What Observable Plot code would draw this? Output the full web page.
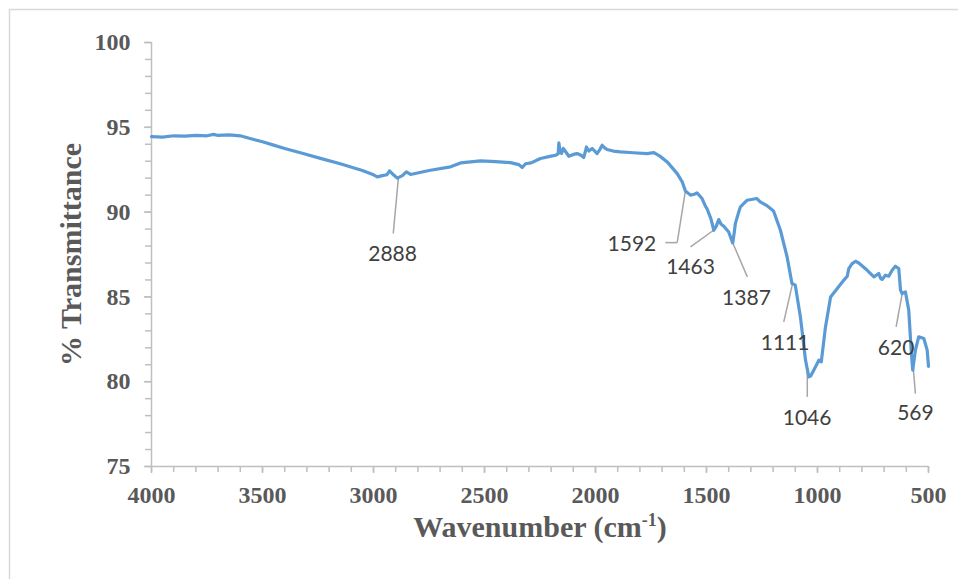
<!DOCTYPE html>
<html>
<head>
<meta charset="utf-8">
<script src="https://cdn.jsdelivr.net/npm/d3@7"></script>
<script src="https://cdn.jsdelivr.net/npm/@observablehq/plot@0.6"></script>
<style>
  html, body { margin: 0; padding: 0; background: #fff; }
  #chart svg { display: block; }
</style>
</head>
<body>
<div id="chart"></div>
<script>
// Spectrum: wavenumber (cm-1) and % transmittance
const wavenumber = [4000, 3950, 3900, 3850, 3800, 3750, 3720, 3700, 3650, 3600, 3560, 3500, 3450, 3400, 3329, 3239, 3150, 3050, 3000, 2983, 2960, 2940, 2928, 2910, 2893, 2870, 2852, 2833, 2750, 2653, 2608, 2518, 2450, 2383, 2345, 2330, 2315, 2290, 2248, 2200, 2180, 2168, 2165, 2158, 2153, 2145, 2120, 2100, 2083, 2065, 2053, 2045, 2041, 2030, 2015, 2000, 1993, 1980, 1970, 1960, 1948, 1920, 1888, 1830, 1768, 1737, 1710, 1677, 1632, 1610, 1595, 1572, 1555, 1542, 1520, 1505, 1498, 1480, 1467, 1455, 1445, 1435, 1422, 1400, 1382, 1375, 1370, 1355, 1347, 1317, 1273, 1258, 1230, 1198, 1167, 1137, 1115, 1100, 1077, 1054, 1039, 1030, 1017, 994, 983, 964, 941, 911, 881, 866, 859, 845, 829, 814, 776, 746, 724, 716, 709, 694, 679, 664, 649, 634, 626, 619, 604, 589, 578, 571, 559, 544, 521, 506, 500];
const transmittance = [94.45, 94.42, 94.5, 94.48, 94.52, 94.5, 94.58, 94.52, 94.55, 94.5, 94.35, 94.15, 93.95, 93.75, 93.5, 93.17, 92.85, 92.45, 92.2, 92.08, 92.15, 92.2, 92.43, 92.2, 92.0, 92.15, 92.37, 92.22, 92.45, 92.67, 92.9, 93.02, 92.98, 92.92, 92.8, 92.63, 92.85, 92.9, 93.16, 93.3, 93.35, 93.45, 94.08, 93.5, 93.46, 93.75, 93.29, 93.4, 93.45, 93.35, 93.22, 93.6, 93.84, 93.6, 93.75, 93.55, 93.45, 93.7, 93.94, 93.8, 93.69, 93.6, 93.55, 93.5, 93.45, 93.51, 93.3, 92.96, 92.27, 91.8, 91.25, 91.0, 91.05, 91.13, 90.8, 90.35, 90.21, 89.6, 88.93, 89.2, 89.56, 89.3, 89.17, 88.83, 88.18, 88.8, 89.32, 90.0, 90.31, 90.7, 90.8, 90.6, 90.4, 90.07, 88.93, 87.36, 85.79, 85.69, 83.82, 81.27, 80.28, 80.35, 80.68, 81.27, 81.17, 83.23, 85.0, 85.5, 85.99, 86.22, 86.67, 86.95, 87.1, 87.0, 86.57, 86.18, 86.38, 86.1, 86.03, 86.28, 86.22, 86.57, 86.81, 86.67, 85.4, 85.2, 85.3, 84.22, 81.86, 80.68, 81.86, 82.65, 82.55, 81.86, 80.9];

// Axis ticks
const xTicks = [4000, 3500, 3000, 2500, 2000, 1500, 1000, 500];
const xMinorTicks = d3.range(500, 4001, 100);
const yTicks = [75, 80, 85, 90, 95, 100];
const yMinorTicks = d3.range(75, 101, 1);

// Peak annotations (label text and its anchor, in data units)
const peakLabels = ["2888", "1592", "1463", "1387", "1111", "1046", "620", "569"];
const labelWn = [2914, 1836, 1572, 1320, 1146, 1047, 646, 559];
const labelT = [87.5, 88.1, 86.77, 84.9, 82.29, 77.83, 81.96, 78.12];

// Leader segments: [start wn, start T, end wn, end T]
const leaderStartWn = [2888, 1595, 1632, 1468, 1383, 1114, 1046, 618, 571];
const leaderStartT = [92.0, 91.25, 88.2, 88.93, 88.22, 85.69, 80.58, 85.22, 81.17];
const leaderEndWn = [2911, 1632, 1685, 1572, 1316, 1152, 1046, 646, 559];
const leaderEndT = [88.74, 88.2, 88.2, 87.95, 86.18, 83.53, 79.1, 83.23, 79.3];

const spectrum = wavenumber.map((w, i) => ({wn: w, t: transmittance[i]}));
const labels = peakLabels.map((l, i) => ({label: l, wn: labelWn[i], t: labelT[i]}));
const leaders = leaderStartWn.map((w, i) => ({x1: w, y1: leaderStartT[i], x2: leaderEndWn[i], y2: leaderEndT[i]}));

const axisGray = "#bfbfbf";
const textGray = "#595959";

const chart = Plot.plot({
  width: 958,
  height: 579,
  marginLeft: 151,
  marginRight: 30,
  marginTop: 42,
  marginBottom: 113,
  x: {domain: [4000, 500], label: null},
  y: {domain: [75, 100], label: null},
  style: {fontFamily: "'Liberation Serif', 'Times New Roman', serif", background: "#fff", overflow: "visible"},
  marks: [
    Plot.axisX({ticks: xMinorTicks, tickSize: 6, tickFormat: () => "", stroke: axisGray, strokeWidth: 1.5}),
    Plot.axisX({ticks: xTicks, tickSize: 7, tickPadding: 12, tickFormat: d => String(d), stroke: axisGray, strokeWidth: 1.5, fill: textGray, fontSize: 24, fontWeight: "bold"}),
    Plot.axisY({ticks: yMinorTicks, tickSize: 6, tickFormat: () => "", stroke: axisGray, strokeWidth: 1.5}),
    Plot.axisY({ticks: yTicks, tickSize: 7, tickPadding: 14, tickFormat: d => String(d), stroke: axisGray, strokeWidth: 1.5, fill: textGray, fontSize: 24, fontWeight: "bold"}),
    Plot.ruleY([75], {stroke: axisGray, strokeWidth: 1.5}),
    Plot.ruleX([4000], {stroke: axisGray, strokeWidth: 1.5}),
    Plot.link(leaders, {x1: "x1", y1: "y1", x2: "x2", y2: "y2", stroke: "#a6a6a6", strokeWidth: 1.5}),
    Plot.line(spectrum, {x: "wn", y: "t", stroke: "#5b9bd5", strokeWidth: 3.2, strokeLinejoin: "round", strokeLinecap: "round"}),
    Plot.text(labels, {x: "wn", y: "t", text: "label", fontFamily: "Lato, 'Open Sans', sans-serif", fontSize: 21, fill: "#404040"}),
    Plot.text(["% Transmittance"], {frameAnchor: "left", textAnchor: "middle", dx: -80, rotate: -90, fontSize: 30, fontWeight: "bold", fill: textGray}),
    Plot.text(["Wavenumber (cm-1)"], {frameAnchor: "bottom", dy: 70, fontSize: 30, fontWeight: "bold", fill: textGray, className: "xlabel"})
  ]
});

document.getElementById("chart").appendChild(chart);

// superscript for cm-1
const xl = d3.select(chart).select("g.xlabel text");
if (!xl.empty()) {
  xl.text(null);
  xl.append("tspan").text("Wavenumber (cm");
  xl.append("tspan").attr("dy", -11).attr("font-size", 18).text("-1");
  xl.append("tspan").attr("dy", 11).text(")");
}

// outer chart-area border (top and left edges visible)
d3.select(chart).insert("rect", ":first-child")
  .attr("x", 9.5).attr("y", 9.5).attr("width", 1000).attr("height", 1000)
  .attr("fill", "none").attr("stroke", "#d9d9d9").attr("stroke-width", 1.5);
</script>
</body>
</html>
